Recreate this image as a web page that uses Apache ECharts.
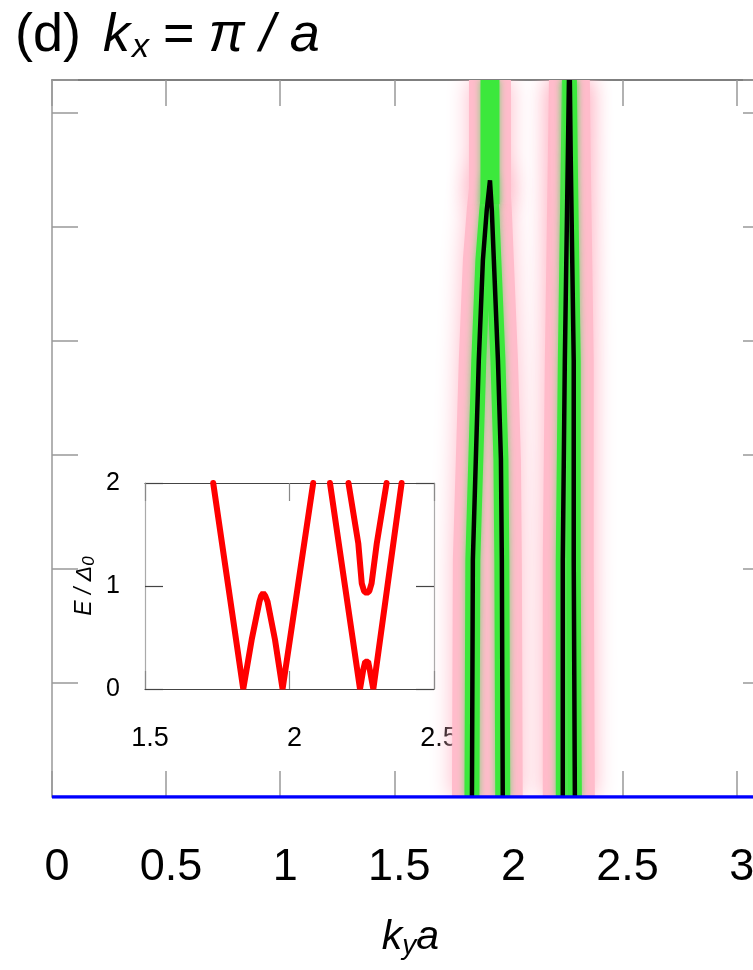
<!DOCTYPE html>
<html>
<head>
<meta charset="utf-8">
<script src="https://cdn.jsdelivr.net/npm/echarts@6/dist/echarts.min.js"></script>
<style>
  html, body { margin: 0; padding: 0; background: #fff; }
  #main { width: 753px; height: 970px; }
</style>
</head>
<body>
<div id="main"></div>
<script>
var FONT = '"Liberation Sans", Arial, sans-serif';

// axis ranges / ticks
var K_MAX = Math.PI;
var E_MAX = 6.29;
var MAIN_X_TICKS = [0, 0.5, 1, 1.5, 2, 2.5, 3];
var INSET_X_TICKS = [1.5, 2, 2.5];
var INSET_Y_TICKS = [0, 1, 2];

// main panel: black dispersion curves [k_y a, value]
var arch = [[1.840, 0], [1.844, 2.08], [1.857, 2.96], [1.870, 3.83], [1.888, 4.71], [1.905, 5.15],
            [1.919, 5.41], [1.927, 5.15], [1.936, 4.71], [1.954, 3.83], [1.967, 2.96], [1.971, 2.08], [1.975, 0]];
var archColumn = [[1.919, 5.2], [1.919, 6.29]];
var band2Left = [[2.238, 0], [2.238, 2.08], [2.247, 3.83], [2.260, 5.59], [2.265, 6.29]];
var band2Right = [[2.291, 0], [2.286, 2.08], [2.286, 3.83], [2.273, 5.59], [2.269, 6.29]];
var zeroLine = [[0, 0], [K_MAX, 0]];

// inset: E / Δ0 vs k_y a
var insetA = [[1.736, 2], [1.788, 1], [1.840, 0], [1.869, 0.476], [1.896, 0.848], [1.902, 0.905], [1.909, 0.93],
              [1.916, 0.905], [1.924, 0.848], [1.950, 0.476], [1.976, 0], [2.029, 1], [2.082, 2]];
var insetB = [[2.140, 2], [2.192, 1], [2.244, 0], [2.255, 0.184], [2.262, 0.265], [2.267, 0.28],
              [2.272, 0.265], [2.278, 0.184], [2.290, 0], [2.339, 1], [2.388, 2]];
var insetC = [[2.204, 2], [2.238, 1.414], [2.250, 1.026], [2.258, 0.95], [2.267, 0.93],
              [2.276, 0.95], [2.284, 1.026], [2.302, 1.414], [2.336, 2]];

var myChart = echarts.init(document.getElementById('main'), null, { renderer: 'canvas' });

function lineSeries(data, xi, yi, z, style) {
  return {
    type: 'line',
    data: data,
    xAxisIndex: xi,
    yAxisIndex: yi,
    symbol: 'none',
    silent: true,
    z: z,
    lineStyle: style
  };
}

/**
 * 宽色带: 用 custom 系列画整条折线, 严格裁剪在网格内
 */
function bandSeries(curve, z, style) {
  return {
    type: 'custom',
    coordinateSystem: 'cartesian2d',
    xAxisIndex: 0,
    yAxisIndex: 0,
    data: curve,
    encode: { x: 0, y: 1 },
    clip: true,
    silent: true,
    z: z,
    renderItem: function (params, api) {
      if (params.dataIndex !== 0) return;
      var pts = curve.map(function (p) { return api.coord(p); });
      return { type: 'polyline', shape: { points: pts }, style: style };
    }
  };
}

function tickFormatter(list) {
  return function (v) {
    return list.indexOf(v) >= 0 ? String(v) : '';
  };
}

// 坐标轴公共样式
function frameAxis(grid, pos, min, max, interval, lineColor, tickColor, tickLen, width) {
  return {
    gridIndex: grid, type: 'value', position: pos, min: min, max: max, interval: interval,
    splitLine: { show: false },
    axisLine: { onZero: false, lineStyle: { color: lineColor, width: width } },
    axisTick: { inside: true, length: tickLen, lineStyle: { color: tickColor, width: width } },
    axisLabel: { show: false }
  };
}

function glowStyle(w) {
  return { fill: 'none', stroke: '#ffbccb', lineWidth: w, lineJoin: 'round', lineCap: 'butt',
           shadowBlur: 22, shadowColor: 'rgba(255,185,200,1)' };
}
function greenStyle(w) {
  return { fill: 'none', stroke: '#3ce83c', lineWidth: w, lineJoin: 'round', lineCap: 'butt',
           shadowBlur: 7, shadowColor: 'rgba(110,215,110,0.9)' };
}
var black = { color: '#000', width: 4.5 };
var red = { color: '#ff0000', width: 6, cap: 'round' };

var series = [];
// 粉色光晕
series.push(bandSeries(arch, 1, glowStyle(40)));
series.push(bandSeries(archColumn, 1, glowStyle(42)));
series.push(bandSeries(band2Left, 1, glowStyle(40)));
series.push(bandSeries(band2Right, 1, glowStyle(40)));
// 绿色带
series.push(bandSeries(arch, 2, greenStyle(15)));
series.push(bandSeries(archColumn, 2, greenStyle(19)));
series.push(bandSeries(band2Left, 2, greenStyle(14)));
series.push(bandSeries(band2Right, 2, greenStyle(14)));
// 黑线
series.push(lineSeries(arch, 0, 0, 3, black));
series.push(lineSeries(band2Left, 0, 0, 3, black));
series.push(lineSeries(band2Right, 0, 0, 3, black));
// E = 0
series.push(lineSeries(zeroLine, 0, 0, 4, { color: '#0000ff', width: 3.5 }));
// inset
[insetA, insetB, insetC].forEach(function (d) {
  series.push(lineSeries(d, 2, 2, 5, red));
});

var xMainBottom = frameAxis(0, 'bottom', 0, K_MAX, 0.5, '#999', '#999', 26, 1.5);
xMainBottom.axisLabel = {
  show: true, margin: 48, fontFamily: FONT, fontSize: 45, color: '#000', padding: [0, 0, 0, 10],
  showMaxLabel: false, formatter: tickFormatter(MAIN_X_TICKS)
};
xMainBottom.name = '{i|k}{s|y}{i|a}';
xMainBottom.nameLocation = 'middle';
xMainBottom.nameGap = 119;
xMainBottom.nameTextStyle = {
  rich: {
    i: { fontFamily: FONT, fontSize: 41, color: '#000', fontStyle: 'italic', lineHeight: 44, verticalAlign: 'middle' },
    s: { fontFamily: FONT, fontSize: 28, color: '#000', fontStyle: 'italic', lineHeight: 20, verticalAlign: 'bottom' }
  }
};

var xInsetBottom = frameAxis(1, 'bottom', 1.5, 2.5, 0.5, '#444', '#888', 18, 1.2);
xInsetBottom.axisLabel = {
  show: true, margin: 36, fontFamily: FONT, fontSize: 27, color: '#000', padding: [0, 0, 0, 10],
  formatter: tickFormatter(INSET_X_TICKS)
};

var yInsetLeft = frameAxis(1, 'left', 0, 2, 1, '#aaa', '#444', 18, 1.2);
yInsetLeft.axisLabel = {
  show: true, margin: 25, fontFamily: FONT, fontSize: 25, color: '#000',
  formatter: tickFormatter(INSET_Y_TICKS)
};
yInsetLeft.name = '{i|E / Δ}{s|0}';
yInsetLeft.nameLocation = 'middle';
yInsetLeft.nameGap = 47;
yInsetLeft.nameTextStyle = {
  rich: {
    i: { fontFamily: FONT, fontSize: 23, color: '#000', fontStyle: 'italic', lineHeight: 26, verticalAlign: 'middle' },
    s: { fontFamily: FONT, fontSize: 17, color: '#000', fontStyle: 'italic', lineHeight: 14, verticalAlign: 'bottom' }
  }
};

var titleTok = { fontFamily: FONT, fontSize: 54, color: '#000', fontWeight: 'normal', lineHeight: 58, verticalAlign: 'middle' };
function tok(extra) {
  var o = {};
  for (var k in titleTok) o[k] = titleTok[k];
  for (var j in extra) o[j] = extra[j];
  return o;
}

var option = {
  animation: false,
  backgroundColor: '#fff',
  title: {
    text: '{p|(d)}{k|k}{s|x}{e|=}{i|π / a}',
    left: 15,
    top: 7,
    padding: 0,
    textStyle: {
      fontWeight: 'normal',
      rich: {
        p: tok({}),
        k: tok({ fontStyle: 'italic', padding: [0, 0, 0, 22] }),
        s: tok({ fontSize: 34, fontStyle: 'italic', lineHeight: 22, verticalAlign: 'bottom', padding: [0, 0, 0, 2] }),
        e: tok({ padding: [0, 0, 0, 14] }),
        i: tok({ fontStyle: 'italic', padding: [0, 0, 0, 14] })
      }
    }
  },
  grid: [
    { left: 52, top: 80, width: 717, height: 717, outerBoundsMode: 'none', containLabel: false },
    { left: 145, top: 483, width: 289, height: 206, outerBoundsMode: 'none', containLabel: false }
  ],
  xAxis: [
    xMainBottom,
    frameAxis(0, 'top', 0, K_MAX, 0.5, '#555', '#999', 26, 1.5),
    xInsetBottom,
    frameAxis(1, 'top', 1.5, 2.5, 0.5, '#444', '#888', 18, 1.2)
  ],
  yAxis: [
    frameAxis(0, 'left', 0, E_MAX, 1, '#999', '#999', 26, 1.5),
    frameAxis(0, 'right', 0, E_MAX, 1, '#999', '#999', 26, 1.5),
    yInsetLeft,
    frameAxis(1, 'right', 0, 2, 1, '#aaa', '#444', 18, 1.2)
  ],
  series: series
};

myChart.setOption(option);
window.onresize = myChart.resize;
</script>
</body>
</html>
